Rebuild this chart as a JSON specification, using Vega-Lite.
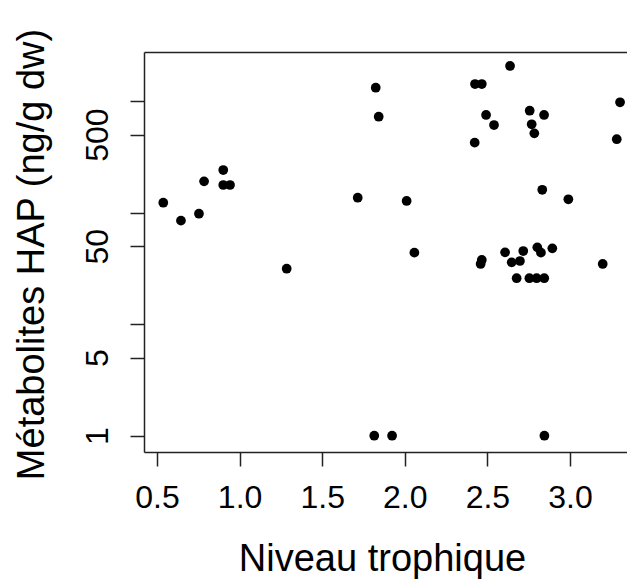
{
  "$schema": "https://vega.github.io/schema/vega-lite/v6.json",
  "width": 483,
  "height": 400,
  "autosize": "none",
  "padding": {"left": 144, "top": 52, "right": 0, "bottom": 130},
  "background": "white",
  "config": {"view": {"stroke": null}, "font": "Liberation Sans"},
  "data": {
    "values": [
      {"tl": 0.538, "hap": 122.5},
      {"tl": 0.645, "hap": 84.6},
      {"tl": 0.754, "hap": 97.7},
      {"tl": 0.785, "hap": 190.5},
      {"tl": 0.901, "hap": 240.6},
      {"tl": 0.901, "hap": 176.6},
      {"tl": 0.942, "hap": 176.6},
      {"tl": 1.285, "hap": 31.4},
      {"tl": 1.715, "hap": 135.9},
      {"tl": 1.824, "hap": 1315},
      {"tl": 1.842, "hap": 723},
      {"tl": 2.637, "hap": 2059},
      {"tl": 2.425, "hap": 1419},
      {"tl": 2.466, "hap": 1419},
      {"tl": 2.492, "hap": 749},
      {"tl": 2.54, "hap": 609},
      {"tl": 2.423, "hap": 423},
      {"tl": 2.756, "hap": 818},
      {"tl": 2.843, "hap": 749},
      {"tl": 2.768, "hap": 618},
      {"tl": 2.784, "hap": 513},
      {"tl": 3.303, "hap": 973},
      {"tl": 3.283, "hap": 454},
      {"tl": 2.011, "hap": 127},
      {"tl": 2.832, "hap": 160},
      {"tl": 2.99, "hap": 131.5},
      {"tl": 2.058, "hap": 43.7},
      {"tl": 2.466, "hap": 37.6},
      {"tl": 2.459, "hap": 34.6},
      {"tl": 2.607, "hap": 44},
      {"tl": 2.647, "hap": 35.8},
      {"tl": 2.697, "hap": 36.8},
      {"tl": 2.717, "hap": 45.2},
      {"tl": 2.802, "hap": 48.8},
      {"tl": 2.824, "hap": 43.7},
      {"tl": 2.893, "hap": 47.8},
      {"tl": 3.198, "hap": 34.6},
      {"tl": 2.677, "hap": 25.8},
      {"tl": 2.754, "hap": 25.8},
      {"tl": 2.798, "hap": 25.8},
      {"tl": 2.844, "hap": 25.8},
      {"tl": 1.815, "hap": 1},
      {"tl": 1.923, "hap": 1},
      {"tl": 2.845, "hap": 1}
    ]
  },
  "layer": [
    {
      "mark": {"type": "point", "filled": true, "shape": "circle", "size": 95, "color": "black", "opacity": 1},
      "encoding": {
        "x": {
          "field": "tl",
          "type": "quantitative",
          "scale": {"domain": [0.4213, 3.345], "nice": false, "zero": false},
          "axis": {
            "orient": "bottom",
            "values": [0.5, 1, 1.5, 2, 2.5, 3],
            "format": ".1f",
            "grid": false,
            "domainColor": "#222",
            "domainWidth": 1.5,
            "tickColor": "#222",
            "tickWidth": 1.5,
            "tickSize": 14,
            "labelFontSize": 32,
            "labelColor": "black",
            "labelBaseline": "alphabetic",
            "labelPadding": 41,
            "labelFlush": false,
            "labelOverlap": false,
            "title": "Niveau trophique",
            "titleFontSize": 38,
            "titleFontWeight": "normal",
            "titleColor": "black",
            "titleBaseline": "alphabetic",
            "titleAlign": "center",
            "titleX": 238,
            "titleY": 118
          }
        },
        "y": {
          "field": "hap",
          "type": "quantitative",
          "scale": {"type": "log", "domain": [0.7145, 2748], "nice": false},
          "axis": {
            "orient": "left",
            "values": [1, 5, 10, 50, 100, 500, 1000],
            "labelExpr": "indexof([1,5,50,500], datum.value) >= 0 ? format(datum.value, 'd') : ''",
            "grid": false,
            "domainColor": "#222",
            "domainWidth": 1.5,
            "tickColor": "#222",
            "tickWidth": 1.5,
            "tickSize": 14,
            "labelFontSize": 32,
            "labelColor": "black",
            "labelAngle": 270,
            "labelAlign": "center",
            "labelBaseline": "alphabetic",
            "labelPadding": 23,
            "labelFlush": false,
            "labelOverlap": false,
            "title": "Métabolites HAP (ng/g dw)",
            "titleFontSize": 38,
            "titleFontWeight": "normal",
            "titleColor": "black",
            "titleAngle": 270,
            "titleBaseline": "alphabetic",
            "titleAlign": "center",
            "titleX": -100.7,
            "titleY": 202
          }
        }
      }
    },
    {
      "mark": {"type": "point", "opacity": 0},
      "encoding": {
        "x": {
          "field": "tl",
          "type": "quantitative",
          "axis": {
            "orient": "top",
            "labels": false,
            "ticks": false,
            "grid": false,
            "title": null,
            "domainColor": "#222",
            "domainWidth": 1.5
          }
        },
        "y": {"field": "hap", "type": "quantitative"}
      }
    }
  ],
  "resolve": {"axis": {"x": "independent"}}
}
